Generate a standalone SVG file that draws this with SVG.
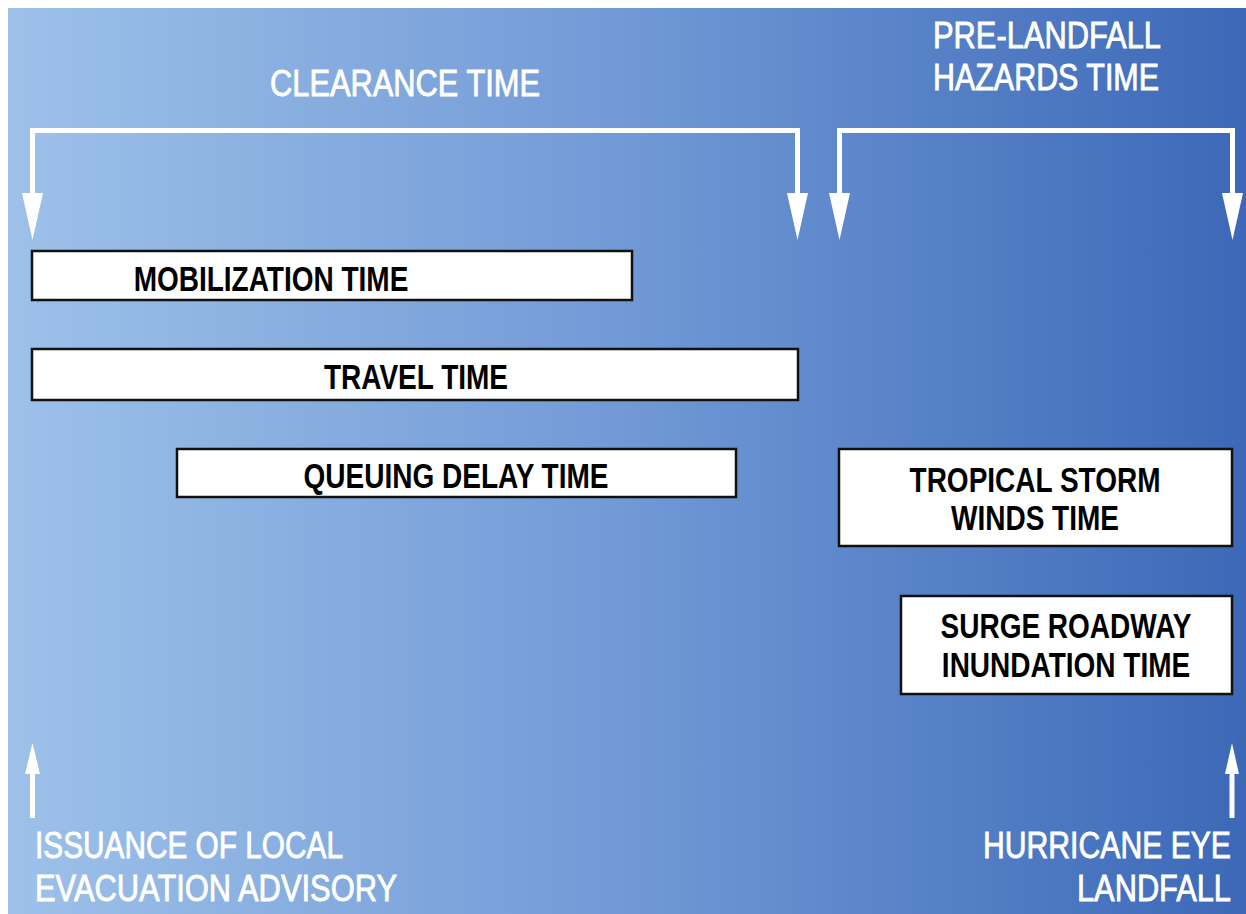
<svg xmlns="http://www.w3.org/2000/svg" width="1246" height="914" viewBox="0 0 1246 914">
<defs>
<linearGradient id="bg" x1="0" y1="0" x2="1" y2="0">
<stop offset="0" stop-color="#9dc1e9"/>
<stop offset="0.5" stop-color="#7199d6"/>
<stop offset="1" stop-color="#3c68b7"/>
</linearGradient>
<style>
.wt{font-family:"Liberation Sans",Arial,sans-serif;font-size:30px;fill:#ffffff;stroke:#ffffff;stroke-width:0.7;}
.bt{font-family:"Liberation Sans",Arial,sans-serif;font-size:28px;font-weight:bold;fill:#000000;text-anchor:middle;}
.box{fill:#ffffff;stroke:#111111;stroke-width:2.5;}
.ln{fill:none;stroke:#ffffff;stroke-width:5;stroke-linejoin:miter;}
.hd{fill:#ffffff;}
</style>
</defs>
<rect x="0" y="0" width="1246" height="914" fill="#ffffff"/>
<rect x="8" y="8" width="1238" height="906" fill="url(#bg)"/>

<g id="connectors">
<path class="ln" d="M32.5,196 V130.5 H797.5 V196"/>
<polygon class="hd" points="22,193 43,193 32.5,240"/>
<polygon class="hd" points="787,193 808,193 797.5,240"/>
<path class="ln" d="M839.5,196 V130.5 H1232.5 V196"/>
<polygon class="hd" points="829,193 850,193 839.5,240"/>
<polygon class="hd" points="1222,193 1243,193 1232.5,240"/>
<path class="ln" d="M32.5,818 V770"/>
<polygon class="hd" points="25,774 40,774 32.5,743"/>
<path class="ln" d="M1232,818 V770"/>
<polygon class="hd" points="1225,774 1239,774 1232,743"/>
</g>

<g id="clearance-label">
<text class="wt" transform="translate(270,96) scale(1,1.2)" textLength="270" lengthAdjust="spacingAndGlyphs">CLEARANCE TIME</text>
</g>
<g id="prelandfall-label">
<text class="wt" transform="translate(933,48) scale(1,1.2)" textLength="228" lengthAdjust="spacingAndGlyphs">PRE-LANDFALL</text>
<text class="wt" transform="translate(933,90) scale(1,1.2)" textLength="226" lengthAdjust="spacingAndGlyphs">HAZARDS TIME</text>
</g>

<g id="mobilization">
<rect class="box" x="32" y="251" width="600" height="49"/>
<text class="bt" transform="translate(271,291) scale(1,1.25)">MOBILIZATION TIME</text>
</g>
<g id="travel">
<rect class="box" x="32" y="349" width="766" height="51"/>
<text class="bt" transform="translate(416,389) scale(1,1.25)">TRAVEL TIME</text>
</g>
<g id="queuing">
<rect class="box" x="177" y="449" width="559" height="48"/>
<text class="bt" transform="translate(456,488) scale(1,1.25)">QUEUING DELAY TIME</text>
</g>
<g id="tropical">
<rect class="box" x="839" y="449" width="393" height="97"/>
<text class="bt" transform="translate(1035,492) scale(1,1.25)">TROPICAL STORM</text>
<text class="bt" transform="translate(1035,530) scale(1,1.25)">WINDS TIME</text>
</g>
<g id="surge">
<rect class="box" x="901" y="596" width="331" height="98"/>
<text class="bt" transform="translate(1066,638) scale(1,1.25)">SURGE ROADWAY</text>
<text class="bt" transform="translate(1066,677) scale(1,1.25)">INUNDATION TIME</text>
</g>

<g id="issuance-label">
<text class="wt" transform="translate(35,858) scale(1,1.2)" textLength="308" lengthAdjust="spacingAndGlyphs">ISSUANCE OF LOCAL</text>
<text class="wt" transform="translate(35,901) scale(1,1.2)" textLength="362" lengthAdjust="spacingAndGlyphs">EVACUATION ADVISORY</text>
</g>
<g id="landfall-label">
<text class="wt" transform="translate(983,858) scale(1,1.2)" textLength="248" lengthAdjust="spacingAndGlyphs">HURRICANE EYE</text>
<text class="wt" transform="translate(1077,901) scale(1,1.2)" textLength="154" lengthAdjust="spacingAndGlyphs">LANDFALL</text>
</g>
</svg>
